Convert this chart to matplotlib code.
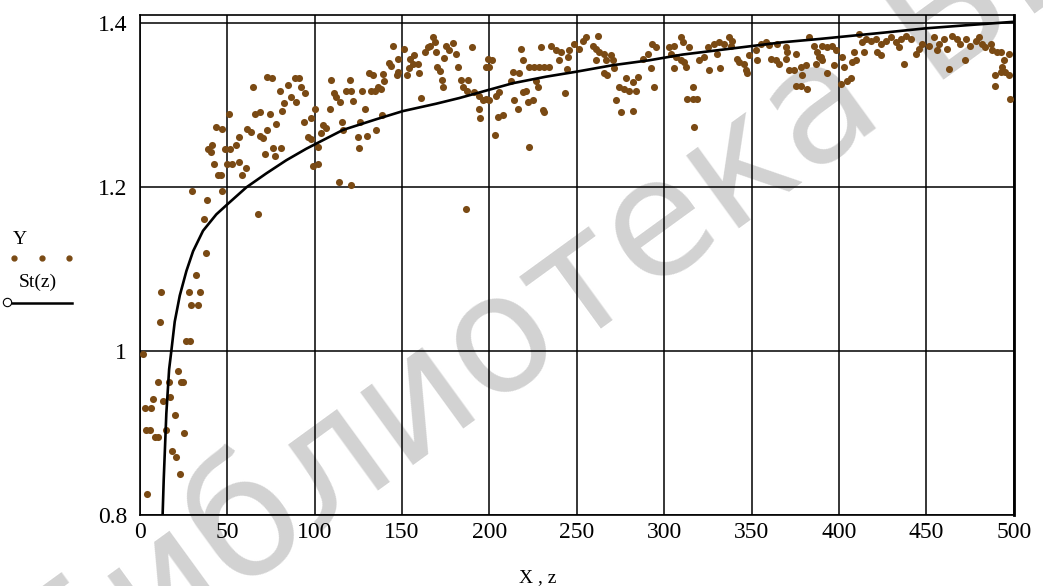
import matplotlib
matplotlib.use("Agg")
import matplotlib.pyplot as plt
from matplotlib.lines import Line2D

X = [30.1, 38.7, 36.6, 37.7, 32.4, 12.4, 28.0, 34.7, 29.5, 33.3, 11.4, 26.3, 29.0, 1.9, 21.9,
     10.5, 16.8, 23.8, 25.0, 7.6, 17.5, 13.3, 2.9, 6.7, 20.0, 3.8, 6.1, 8.6, 10.5, 14.9, 25.3,
     18.7, 20.6, 23.3, 4.2,
     73.0, 75.8, 64.8, 84.8, 88.6, 91.0, 92.4, 80.0, 94.3, 86.7, 82.3, 89.5, 81.5, 100.0, 50.9,
     65.7, 68.6, 74.3, 98.0, 93.9, 78.1, 43.8, 47.2, 61.3, 63.8, 73.0, 56.8, 68.6, 70.5, 96.2,
     98.1, 41.5, 55.2, 39.0, 41.0, 48.6, 51.4, 76.2, 80.6, 71.8, 77.1, 56.8, 49.9, 53.0, 42.5,
     60.6, 44.8, 46.7, 58.7, 99.0, 47.0, 67.6,
     144.8, 151.4, 147.6, 142.5, 143.8, 148.0, 147.2, 154.7, 157.1, 156.2, 159.0, 154.3, 153.0,
     160.0, 162.9, 164.8, 168.0, 169.1, 166.1, 169.5, 175.2, 177.1, 179.4, 180.9, 174.3, 170.1,
     171.8, 173.0, 173.7, 182.3, 190.1, 183.8, 185.1, 187.6, 187.0, 191.4, 194.3, 196.2, 194.3,
     194.9, 198.1, 161.0, 133.3, 131.4, 139.4, 140.0, 136.2, 138.1, 132.4, 134.3, 127.2, 120.0,
     109.5, 118.1, 121.0, 110.9, 112.4, 114.3, 121.9, 108.6, 128.6, 115.8, 104.8, 106.3, 103.8,
     116.2, 126.1, 135.2, 124.8, 129.9, 125.3, 101.9, 101.9, 113.9, 121.0, 138.7, 186.7,
     199.1, 201.5, 200.0, 218.1, 219.1, 229.5, 235.2, 238.1, 241.0, 240.0, 244.8, 245.7, 248.6,
     251.4, 253.3, 255.2, 259.0, 261.0, 261.9, 262.9, 265.7, 266.7, 261.0, 269.5, 270.5, 271.4,
     265.7, 267.2, 222.9, 225.7, 228.6, 231.4, 234.3, 213.3, 217.1, 212.4, 226.7, 227.6, 205.7,
     203.8, 198.1, 200.0, 219.1, 221.0, 214.3, 216.2, 221.9, 224.8, 230.5, 231.4, 243.4, 244.2,
     204.8, 207.6, 203.4, 222.5, 274.3, 277.1, 280.0, 283.8, 278.1, 281.9, 284.8, 287.6, 290.5,
     293.3, 295.2, 292.4, 272.4, 275.2, 281.9, 294.3,
     302.9, 305.7, 309.5, 310.5, 314.3, 303.8, 306.7, 309.5, 311.4, 305.7, 312.4, 316.2, 313.3,
     316.2, 319.0, 317.1, 320.0, 322.9, 324.8, 328.6, 331.4, 334.3, 337.1, 339.0, 338.1, 330.5,
     325.7, 331.8, 341.9, 342.9, 345.7, 346.7, 347.6, 348.6, 352.4, 353.3, 355.2, 358.1, 360.0,
     364.8, 369.5, 370.5, 375.2, 369.5, 361.0, 363.8, 365.7, 371.4, 374.3, 378.1, 379.0, 381.0,
     382.9, 385.7, 387.6, 388.6, 390.5, 386.7, 375.2, 378.1, 381.9, 393.3,
     390.5, 393.3, 396.2, 398.1, 389.5, 397.1, 402.9, 401.0, 404.8, 406.7, 407.6, 409.5, 408.6,
     411.4, 413.3, 415.2, 414.3, 418.1, 421.0, 423.8, 426.7, 429.5, 432.4, 435.2, 438.1, 441.0,
     434.3, 421.9, 423.8, 437.1, 443.8, 445.7, 447.6, 451.4, 454.3, 457.1, 460.0, 461.9, 464.8,
     467.6, 469.5, 472.4, 475.2, 478.1, 480.0, 481.9, 483.8, 486.7, 487.6, 490.5, 492.4, 472.0,
     463.2, 494.3, 493.3, 492.4, 495.2, 497.1, 489.5, 489.1, 497.1, 498.1, 401.9, 456.2]
Y = [1.196, 1.184, 1.161, 1.120, 1.093, 1.072, 1.072, 1.072, 1.056, 1.056, 1.036, 1.013, 1.013,
     0.997, 0.976, 0.962, 0.962, 0.963, 0.963, 0.942, 0.944, 0.939, 0.931, 0.931, 0.922, 0.904,
     0.904, 0.895, 0.895, 0.904, 0.900, 0.878, 0.871, 0.850, 0.826,
     1.335, 1.333, 1.322, 1.325, 1.333, 1.333, 1.323, 1.317, 1.315, 1.310, 1.303, 1.304, 1.293,
     1.295, 1.289, 1.289, 1.292, 1.289, 1.284, 1.280, 1.277, 1.274, 1.271, 1.271, 1.267, 1.270,
     1.262, 1.263, 1.260, 1.261, 1.259, 1.252, 1.252, 1.247, 1.243, 1.247, 1.247, 1.248, 1.248,
     1.241, 1.238, 1.231, 1.228, 1.228, 1.228, 1.224, 1.215, 1.215, 1.215, 1.226, 1.196, 1.168,
     1.373, 1.369, 1.357, 1.352, 1.348, 1.341, 1.337, 1.357, 1.361, 1.351, 1.351, 1.345, 1.337,
     1.339, 1.365, 1.371, 1.383, 1.377, 1.373, 1.365, 1.372, 1.367, 1.376, 1.363, 1.358, 1.347,
     1.342, 1.331, 1.323, 1.347, 1.371, 1.331, 1.323, 1.331, 1.318, 1.316, 1.312, 1.306, 1.296,
     1.284, 1.347, 1.309, 1.337, 1.339, 1.338, 1.330, 1.322, 1.320, 1.318, 1.318, 1.318, 1.331,
     1.331, 1.318, 1.318, 1.315, 1.310, 1.304, 1.305, 1.295, 1.295, 1.280, 1.276, 1.272, 1.266,
     1.270, 1.280, 1.270, 1.261, 1.263, 1.248, 1.249, 1.229, 1.207, 1.203, 1.288, 1.174,
     1.357, 1.355, 1.347, 1.369, 1.355, 1.371, 1.373, 1.367, 1.365, 1.355, 1.359, 1.367, 1.375,
     1.369, 1.379, 1.383, 1.373, 1.369, 1.385, 1.365, 1.363, 1.355, 1.355, 1.361, 1.355, 1.345,
     1.339, 1.337, 1.347, 1.347, 1.347, 1.347, 1.347, 1.341, 1.339, 1.330, 1.330, 1.322, 1.316,
     1.311, 1.308, 1.307, 1.316, 1.318, 1.306, 1.296, 1.304, 1.306, 1.294, 1.292, 1.315, 1.344,
     1.286, 1.288, 1.264, 1.249, 1.322, 1.320, 1.318, 1.318, 1.333, 1.328, 1.335, 1.357, 1.363,
     1.375, 1.371, 1.345, 1.306, 1.292, 1.293, 1.322,
     1.371, 1.373, 1.383, 1.377, 1.371, 1.363, 1.359, 1.355, 1.353, 1.345, 1.347, 1.322, 1.308,
     1.308, 1.308, 1.274, 1.355, 1.359, 1.371, 1.375, 1.377, 1.375, 1.383, 1.379, 1.373, 1.363,
     1.343, 1.346, 1.357, 1.353, 1.351, 1.343, 1.339, 1.361, 1.367, 1.355, 1.375, 1.377, 1.374,
     1.375, 1.371, 1.365, 1.363, 1.357, 1.357, 1.355, 1.351, 1.343, 1.343, 1.347, 1.337, 1.349,
     1.383, 1.373, 1.365, 1.359, 1.355, 1.351, 1.324, 1.324, 1.320, 1.339,
     1.373, 1.371, 1.373, 1.367, 1.359, 1.349, 1.347, 1.326, 1.330, 1.333, 1.353, 1.355, 1.365,
     1.387, 1.377, 1.381, 1.365, 1.379, 1.381, 1.375, 1.379, 1.383, 1.377, 1.381, 1.385, 1.381,
     1.371, 1.365, 1.361, 1.351, 1.363, 1.369, 1.375, 1.373, 1.383, 1.375, 1.381, 1.369, 1.385,
     1.381, 1.375, 1.381, 1.373, 1.379, 1.383, 1.375, 1.371, 1.375, 1.367, 1.365, 1.365, 1.355,
     1.344, 1.355, 1.347, 1.341, 1.341, 1.337, 1.337, 1.324, 1.363, 1.308, 1.359, 1.367]

# fitted curve St(z)
z = [13.0, 13.7, 15.2, 16.8, 18.1, 20.0, 22.9, 26.7, 30.5, 36.2, 43.8, 50.5, 61.0, 72.4, 83.8,
     95.2, 116.2, 135.2, 150.5, 169.5, 182.9, 198.1, 213.3, 232.4, 249.5, 270.5, 291.4, 310.5,
     329.5, 348.6, 367.6, 388.6, 407.6, 426.7, 449.5, 474.3, 500.0]
St = [0.795, 0.843, 0.924, 0.978, 1.001, 1.036, 1.068, 1.098, 1.122, 1.147, 1.167, 1.180, 1.200,
      1.217, 1.233, 1.247, 1.270, 1.283, 1.293, 1.302, 1.309, 1.318, 1.327, 1.335, 1.341, 1.349,
      1.355, 1.362, 1.367, 1.372, 1.377, 1.381, 1.385, 1.389, 1.394, 1.398, 1.402]

xticks = [0, 50, 100, 150, 200, 250, 300, 350, 400, 450, 500]
yticks = [0.8, 1.0, 1.2, 1.4]
ytick_labels = ["0.8", "1", "1.2", "1.4"]

serif = "Liberation Serif"
dot_color = "#7a4a14"

fig = plt.figure(figsize=(10.43, 5.86), dpi=100)
ax = fig.add_axes([0.134, 0.121, 0.838, 0.853])
ax.set_facecolor("none")

# watermark
fig.text(0.03, -0.172, "Библиотека БГУИР", fontsize=118, color="#d2d2d2",
         rotation=36, rotation_mode="anchor", ha="left", va="center",
         family="DejaVu Sans", zorder=-1)

ax.scatter(X, Y, s=26, color=dot_color, zorder=3, linewidths=0)
ax.plot(z, St, color="black", lw=1.9, zorder=4)

ax.set_xlim(0, 500)
ax.set_ylim(0.8, 1.41)
ax.set_xticks(xticks)
ax.set_yticks(yticks)
ax.set_xticklabels([str(t) for t in xticks], family=serif, fontsize=17)
ax.set_yticklabels(ytick_labels, family=serif, fontsize=17)
ax.tick_params(length=0, pad=5)
ax.tick_params(axis="y", pad=9)
ax.grid(True, color="black", lw=1.1)
for s in ax.spines.values():
    s.set_color("black")
    s.set_linewidth(1.2)
ax.spines["right"].set_linewidth(2)

fig.text(538 / 1043, 1 - 578 / 586, "X , z", family=serif, fontsize=14,
         ha="center", va="center")

# Mathcad-style trace legend on the left
fig.text(20 / 1043, 1 - 240 / 586, "Y", family=serif, fontsize=14, ha="center", va="center")
fig.add_artist(Line2D([14 / 1043, 42 / 1043, 69 / 1043], [1 - 258 / 586] * 3,
                      ls="none", marker="o", ms=3.5, color=dot_color))
fig.text(38 / 1043, 1 - 282 / 586, "St(z)", family=serif, fontsize=14, ha="center", va="center")
fig.add_artist(Line2D([12 / 1043, 72 / 1043], [1 - 303 / 586] * 2, color="black", lw=1.8))
fig.add_artist(Line2D([7 / 1043], [1 - 302 / 586], ls="none", marker="o", ms=6,
                      mfc="white", mec="black", mew=0.8))

fig.savefig("out.png", dpi=100)
